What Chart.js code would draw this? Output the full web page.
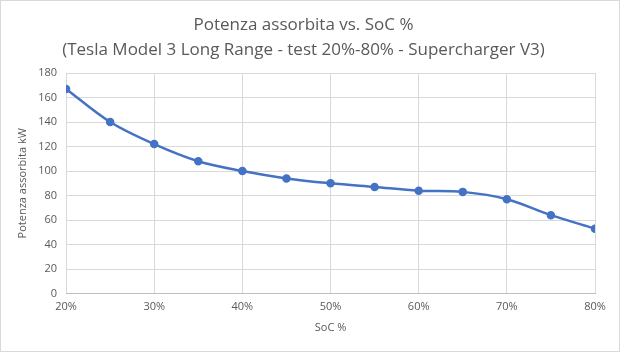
<!DOCTYPE html>
<html><head><meta charset="utf-8">
<script src="https://cdn.jsdelivr.net/npm/chart.js@4.4.1/dist/chart.umd.min.js"></script>
<style>
html,body{margin:0;padding:0;background:#fff;}
#wrap{position:absolute;left:0;top:0;width:618px;height:350px;border:1px solid #d9d9d9;}
canvas{display:block;}
</style></head>
<body>
<div id="wrap"><canvas id="c" width="618" height="350"></canvas></div>
<script>
const titleLines = ["Potenza assorbita vs. SoC %", "(Tesla Model 3 Long Range - test 20%-80% - Supercharger V3)"];
const socPercent = [20, 25, 30, 35, 40, 45, 50, 55, 60, 65, 70, 75, 80];
const powerKW = [167, 140, 122, 108, 100, 94, 90, 87, 84, 83, 77, 64, 53];
const xAxisTitle = "SoC %";
const yAxisTitle = "Potenza assorbita kW";

const FONT = "'Open Sans', 'DejaVu Sans', sans-serif";
const points = socPercent.map((s, i) => ({x: s, y: powerKW[i]}));

new Chart(document.getElementById('c'), {
  type: 'line',
  data: { datasets: [{
    data: points,
    borderColor: '#4472C4',
    backgroundColor: '#4472C4',
    borderWidth: 2.5,
    pointRadius: 3,
    pointHoverRadius: 3,
    tension: 0.35,
    fill: false
  }]},
  options: {
    responsive: false,
    animation: false,
    layout: { padding: { left: 11, right: 24, top: 5, bottom: 13 } },
    plugins: {
      legend: { display: false },
      tooltip: { enabled: false },
      title: {
        display: true, text: titleLines, color: '#595959',
        font: { family: FONT, size: 17, weight: 'normal', lineHeight: 1.5 },
        padding: { top: 6, bottom: 10 }
      }
    },
    scales: {
      x: {
        type: 'linear', min: 20, max: 80,
        ticks: { stepSize: 10, color: '#595959', font: { family: FONT, size: 11 }, callback: v => v + '%', padding: 7, maxRotation: 0 },
        grid: { color: '#d9d9d9', drawTicks: false, lineWidth: 1 },
        border: { color: '#bfbfbf', width: 1 },
        title: { display: true, text: xAxisTitle, color: '#595959', font: { family: FONT, size: 11 }, padding: { top: 0 } }
      },
      y: {
        min: 0, max: 180,
        ticks: { stepSize: 20, color: '#595959', font: { family: FONT, size: 11 }, padding: 9 },
        grid: { color: '#d9d9d9', drawTicks: false, lineWidth: 1 },
        border: { display: false },
        title: { display: true, text: yAxisTitle, color: '#595959', font: { family: FONT, size: 11 }, padding: { top: 4, bottom: 0 } }
      }
    }
  }
});
</script>
</body></html>
